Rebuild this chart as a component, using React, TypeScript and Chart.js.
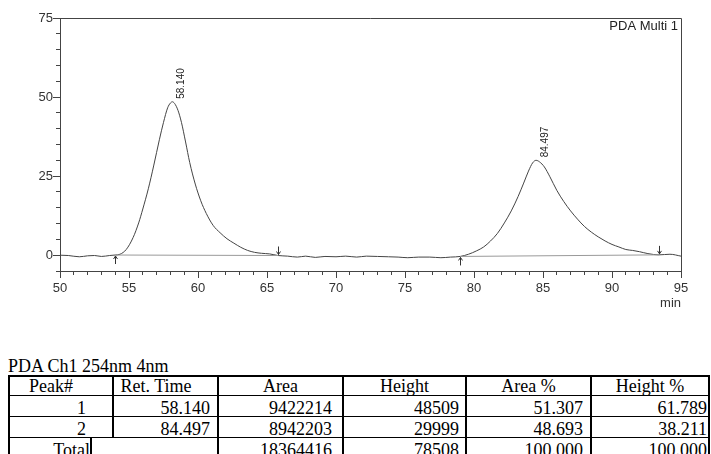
import React, { useEffect, useRef } from 'react';
import { Chart, registerables } from 'chart.js';

Chart.register(...registerables);

// Detector trace: retention time (min) and absorbance (mAU)
const timeMin = [
  50.0, 50.6, 51.4, 52.0, 52.5, 53.0, 53.6, 54.0, 54.35, 54.8,
  55.3, 55.7, 56.0, 56.4, 56.8, 57.2, 57.5, 57.8, 58.0, 58.14,
  58.3, 58.55, 58.8, 59.1, 59.4, 59.8, 60.2, 60.6, 61.1, 61.6,
  62.1, 62.6, 63.1, 63.6, 64.1, 64.6, 65.2, 65.8, 66.5, 67.2,
  67.8, 68.5, 69.2, 70.0, 70.7, 71.5, 72.2, 73.0, 73.8, 74.5,
  75.2, 76.0, 76.8, 77.6, 78.3, 79.0, 79.6, 80.2, 80.7, 81.2,
  81.7, 82.2, 82.7, 83.2, 83.6, 83.95, 84.25, 84.497, 84.75, 85.1,
  85.5, 86.0, 86.5, 87.0, 87.5, 88.0, 88.5, 89.0, 89.5, 90.0,
  90.5, 91.0, 91.5, 92.0, 92.6, 93.4, 94.2, 95.0,
];
const signalMAU = [
  0.0, -0.1, -0.5, -0.2, -0.1, -0.4, -0.1, 0.05, 0.3, 1.8,
  5.6, 10.2, 14.6, 21.0, 28.5, 36.5, 42.0, 46.6, 48.1, 48.509,
  48.0, 45.8, 42.0, 35.8, 29.3, 22.5, 17.2, 13.2, 9.4, 7.1,
  5.2, 3.8, 2.5, 1.5, 0.9, 0.6, 0.4, -0.1, -0.3, -0.6,
  -0.3, -0.7, -0.4, -0.5, -0.3, -0.6, -0.3, -0.4, -0.5, -0.6,
  -0.8, -0.6, -0.6, -0.8, -0.6, -0.4, 0.3, 1.4, 2.6, 4.5,
  6.9, 10.2, 14.0, 18.6, 22.8, 26.6, 29.2, 29.999, 29.5, 27.9,
  24.8, 20.5, 17.0, 14.0, 11.4, 9.1, 7.3, 5.8, 4.5, 3.4,
  2.6, 1.8, 1.5, 1.1, 0.5, 0.1, 0.3, -0.3,
];

// Integrated peaks
const peakTimes = [58.14, 84.497];
const peakHeights = [48.509, 29.999];
const peakLabels = ['58.140', '84.497'];

// Integration baselines (start / end of each peak)
const baseStartT = [54.0, 79.0];
const baseStartY = [0.05, -0.4];
const baseEndT = [65.82, 93.4];
const baseEndY = [-0.1, 0.1];

// Axis ranges
const xRange = [50, 95];
const yRange = [-5, 75];
const channelName = 'PDA Multi 1';
const xUnit = 'min';

// Peak table
const tableTitle = 'PDA Ch1 254nm 4nm';
const tableHeaders = ['Peak#', 'Ret. Time', 'Area', 'Height', 'Area %', 'Height %'];
const peakNo = ['1', '2'];
const retTimes = ['58.140', '84.497'];
const areas = ['9422214', '8942203'];
const heights = ['48509', '29999'];
const areaPct = ['51.307', '48.693'];
const heightPct = ['61.789', '38.211'];
const totalLabel = 'Total';
const totals = ['18364416', '78508', '100.000', '100.000'];

const AXIS = '#444';
const TEXT = '#333';
const SANS = '"Liberation Sans", Arial, sans-serif';
const SERIF = '"Liberation Serif", "Times New Roman", serif';

const decorations = {
  id: 'decorations',
  afterDraw(chart: any) {
    const { ctx, chartArea: a, scales } = chart;
    const x = scales.x;
    const y = scales.y;
    ctx.save();
    ctx.strokeStyle = AXIS;
    ctx.lineWidth = 1;

    // frame: top and right edges
    ctx.beginPath();
    ctx.moveTo(Math.round(a.left), Math.round(a.top) + 0.5);
    ctx.lineTo(Math.round(a.right) + 0.5, Math.round(a.top) + 0.5);
    ctx.lineTo(Math.round(a.right) + 0.5, Math.round(a.bottom));
    ctx.stroke();

    // longer marks at the labelled ticks
    ctx.beginPath();
    for (let v = 0; v <= yRange[1]; v += 25) {
      const py = Math.round(y.getPixelForValue(v)) + 0.5;
      ctx.moveTo(a.left - 7, py);
      ctx.lineTo(a.left, py);
    }
    for (let v = xRange[0]; v <= xRange[1]; v += 5) {
      const px = Math.round(x.getPixelForValue(v)) + 0.5;
      ctx.moveTo(px, a.bottom);
      ctx.lineTo(px, a.bottom + 7);
    }
    ctx.stroke();

    // peak start / end markers
    ctx.strokeStyle = '#333';
    ctx.beginPath();
    for (let i = 0; i < baseStartT.length; i++) {
      const sx = Math.round(x.getPixelForValue(baseStartT[i])) + 0.5;
      const sy = y.getPixelForValue(baseStartY[i]);
      ctx.moveTo(sx, sy + 9);
      ctx.lineTo(sx, sy + 1);
      ctx.moveTo(sx - 2, sy + 4);
      ctx.lineTo(sx, sy + 1);
      ctx.lineTo(sx + 2, sy + 4);
      const ex = Math.round(x.getPixelForValue(baseEndT[i])) + 0.5;
      const ey = y.getPixelForValue(baseEndY[i]);
      ctx.moveTo(ex, ey - 9);
      ctx.lineTo(ex, ey - 1);
      ctx.moveTo(ex - 2, ey - 4);
      ctx.lineTo(ex, ey - 1);
      ctx.lineTo(ex + 2, ey - 4);
    }
    ctx.stroke();

    // retention time labels above each apex
    ctx.fillStyle = '#222';
    ctx.font = `10px ${SANS}`;
    ctx.textAlign = 'left';
    ctx.textBaseline = 'middle';
    for (let i = 0; i < peakTimes.length; i++) {
      const px = x.getPixelForValue(peakTimes[i]);
      const py = y.getPixelForValue(peakHeights[i]);
      ctx.save();
      ctx.translate(px + 9, py - 3);
      ctx.rotate(-Math.PI / 2);
      ctx.fillText(peakLabels[i], 0, 0);
      ctx.restore();
    }

    // channel name
    ctx.fillStyle = '#222';
    ctx.font = `13px ${SANS}`;
    ctx.textAlign = 'right';
    ctx.textBaseline = 'middle';
    ctx.fillText(channelName, a.right - 3, a.top + 8);
    ctx.restore();
  },
};

function Chromatogram() {
  const ref = useRef<HTMLCanvasElement | null>(null);

  useEffect(() => {
    if (!ref.current) return;
    const trace = timeMin.map((t, i) => ({ x: t, y: signalMAU[i] }));
    const baselines = baseStartT.map((t, i) => [
      { x: t, y: baseStartY[i] },
      { x: baseEndT[i], y: baseEndY[i] },
    ]);

    const chart = new Chart(ref.current, {
      type: 'line',
      data: {
        datasets: [
          ...baselines.map((pts) => ({
            data: pts,
            borderColor: '#999',
            borderWidth: 1,
            pointRadius: 0,
            fill: false,
          })),
          {
            data: trace,
            borderColor: '#444',
            borderWidth: 1,
            pointRadius: 0,
            fill: false,
            cubicInterpolationMode: 'monotone',
          },
        ],
      },
      options: {
        animation: false,
        responsive: true,
        maintainAspectRatio: false,
        events: [],
        layout: { padding: { top: 18, right: 30, bottom: 5, left: 0 } },
        plugins: { legend: { display: false }, tooltip: { enabled: false } },
        scales: {
          x: {
            type: 'linear',
            min: xRange[0],
            max: xRange[1],
            grid: { drawOnChartArea: false, tickLength: 4, color: AXIS },
            border: { display: true, color: AXIS },
            ticks: {
              stepSize: 1,
              autoSkip: false,
              maxRotation: 0,
              padding: 6,
              color: TEXT,
              font: { family: SANS, size: 13 },
              callback: (v: any) => (Number(v) % 5 === 0 ? String(v) : ''),
            },
            title: {
              display: true,
              text: xUnit,
              align: 'end',
              color: TEXT,
              font: { family: SANS, size: 13 },
              padding: { top: 0, bottom: 4 },
            },
            afterFit: (s: any) => {
              s.height = 44;
            },
          },
          y: {
            type: 'linear',
            min: yRange[0],
            max: yRange[1],
            grid: { drawOnChartArea: false, tickLength: 4, color: AXIS },
            border: { display: true, color: AXIS },
            ticks: {
              stepSize: 5,
              autoSkip: false,
              padding: 3,
              color: TEXT,
              font: { family: SANS, size: 13 },
              callback: (v: any) => (Number(v) % 25 === 0 ? String(v) : ''),
            },
            afterFit: (s: any) => {
              s.width = 60;
            },
          },
        },
      },
      plugins: [decorations],
    } as any);
    return () => chart.destroy();
  }, []);

  return (
    <div style={{ position: 'absolute', left: 0, top: 0, width: 711, height: 320 }}>
      <canvas ref={ref} />
    </div>
  );
}

const colWidths = [104, 105, 125, 123, 125, 116];
const headerShift = [20, 19, 0, 0, 0, 0];
const cellPadRight = [26, 7, 10, 6, 7, 1];

function Cell(props: { i: number; text: string; header?: boolean }) {
  const { i, text, header } = props;
  const last = i === colWidths.length - 1;
  return (
    <div
      style={{
        boxSizing: 'border-box',
        width: colWidths[i],
        height: '100%',
        borderRight: last ? 'none' : '2px solid #000',
        textAlign: header ? 'center' : 'right',
        paddingRight: header ? headerShift[i] : cellPadRight[i],
        paddingTop: header ? 0 : 2,
        whiteSpace: 'nowrap',
        overflow: 'visible',
      }}
    >
      {text}
    </div>
  );
}

function PeakTable() {
  const rows = peakNo.map((n, i) => [n, retTimes[i], areas[i], heights[i], areaPct[i], heightPct[i]]);
  const rowStyle = (h: number, bottom: boolean): React.CSSProperties => ({
    display: 'flex',
    boxSizing: 'border-box',
    height: h,
    borderBottom: bottom ? '1px solid #000' : 'none',
  });
  return (
    <div style={{ fontFamily: SERIF, fontSize: 18, color: '#000' }}>
      <div style={{ position: 'absolute', left: 8, top: 357, lineHeight: '18px', whiteSpace: 'nowrap' }}>
        {tableTitle}
      </div>
      <div
        style={{
          position: 'absolute',
          left: 8,
          top: 375,
          width: 698,
          border: '2px solid #000',
          lineHeight: '18px',
        }}
      >
        <div style={rowStyle(19, true)}>
          {tableHeaders.map((h, i) => (
            <Cell key={h} i={i} text={h} header />
          ))}
        </div>
        {rows.map((r, ri) => (
          <div key={ri} style={{ ...rowStyle(21, true), lineHeight: '20px' }}>
            {r.map((t, i) => (
              <Cell key={i} i={i} text={t} />
            ))}
          </div>
        ))}
        <div style={{ ...rowStyle(21, false), lineHeight: '20px' }}>
          <div
            style={{
              boxSizing: 'border-box',
              width: colWidths[0] + colWidths[1],
              height: '100%',
              borderRight: '2px solid #000',
              display: 'flex',
            }}
          >
            <div
              style={{
                boxSizing: 'border-box',
                width: 82,
                height: '100%',
                borderRight: '2px solid #000',
                textAlign: 'right',
                paddingTop: 2,
              }}
            >
              {totalLabel}
            </div>
          </div>
          {totals.map((t, k) => (
            <Cell key={k} i={k + 2} text={t} />
          ))}
        </div>
      </div>
    </div>
  );
}

export default function App() {
  return (
    <div
      style={{
        position: 'absolute',
        left: 0,
        top: 0,
        width: 711,
        height: 454,
        overflow: 'hidden',
        background: '#fff',
      }}
    >
      <Chromatogram />
      <PeakTable />
    </div>
  );
}
